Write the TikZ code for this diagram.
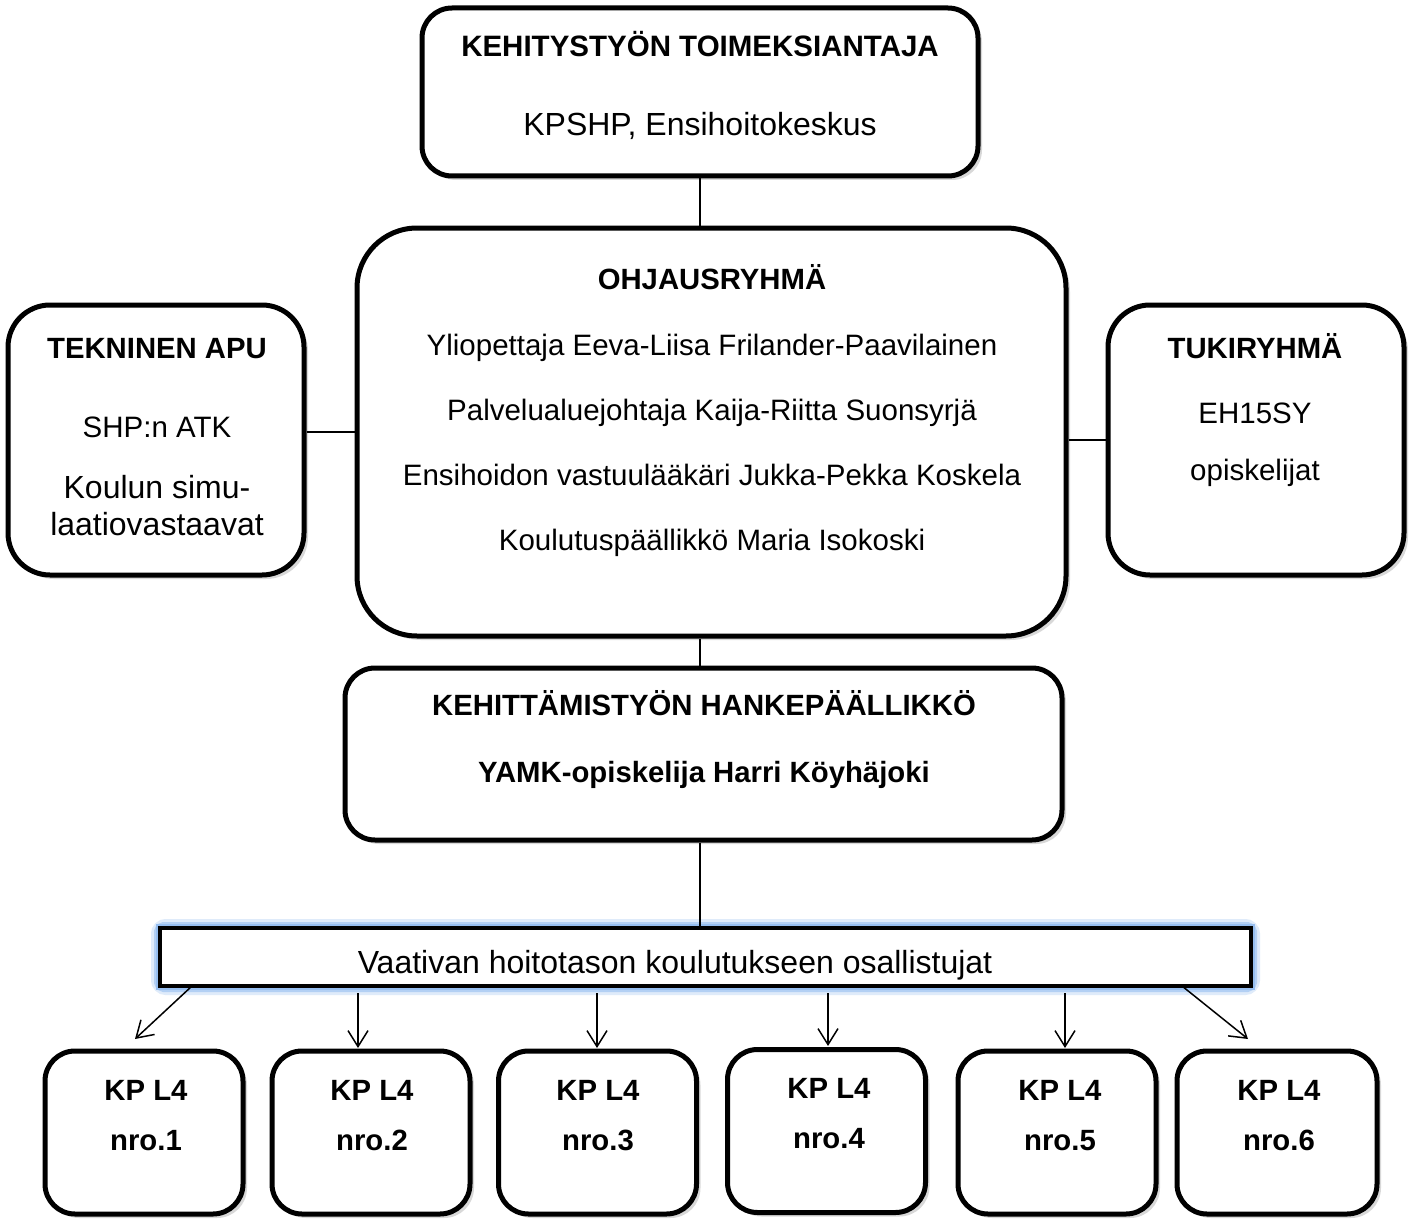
\documentclass[tikz,border=0pt]{standalone}
\usepackage{fontspec}
\setmainfont{Liberation Sans}
\usetikzlibrary{shadows,arrows.meta}
\definecolor{glowblue}{RGB}{150,190,240}
\tikzset{
  box/.style={draw, line width=5pt, rounded corners=#1, fill=white, inner sep=0pt,
    drop shadow={shadow xshift=4pt, shadow yshift=-4pt, opacity=0.3}},
  box/.default=30pt,
  rtxt/.style={anchor=base, inner sep=0pt, font=\fontsize{29.5}{35}\selectfont},
  btxt/.style={anchor=base, inner sep=0pt, font=\fontsize{29.3}{35}\selectfont\bfseries},
  bigtxt/.style={anchor=base, inner sep=0pt, font=\fontsize{32}{37}\selectfont},
  conn/.style={line width=1.5pt},
  arr/.style={line width=1.5pt, -{Straight Barb[length=16pt,width=20pt]}},
  kp/.style={box, minimum width=198pt, minimum height=163pt}
}
\begin{document}
\begin{tikzpicture}[x=1pt,y=-1pt]
\useasboundingbox[fill=white] (0,0) rectangle (1414,1220);

% boxes
\node[box=30pt, minimum width=556pt, minimum height=168pt] (top) at (700,92) {};
\node[box=60pt, minimum width=709pt, minimum height=408pt] (ohj) at (711.5,432) {};
\node[box=42pt, minimum width=296pt, minimum height=270pt] (tek) at (156,440) {};
\node[box=42pt, minimum width=296pt, minimum height=270pt] (tuk) at (1256,440) {};
\node[box=30pt, minimum width=717pt, minimum height=172pt] (han) at (703.5,754) {};

% bar with glow
\draw[glowblue, line width=18pt, opacity=0.3, rounded corners=6pt] (160,928) rectangle (1251,986);
\draw[glowblue, line width=12pt, opacity=0.6, rounded corners=4pt] (160,928) rectangle (1251,986);
\draw[glowblue, line width=8pt] (160,928) rectangle (1251,986);
\node[draw, line width=4.5pt, fill=white, minimum width=1091pt, minimum height=58pt, inner sep=0pt] (bar) at (705.5,957) {};

% bottom boxes
\node[kp] (b1) at (144,1132.5) {};
\node[kp] (b2) at (371,1132.5) {};
\node[kp] (b3) at (597.5,1132.5) {};
\node[kp] (b4) at (826.5,1131) {};
\node[kp] (b5) at (1057,1132.5) {};
\node[kp, minimum width=200pt] (b6) at (1277,1132.5) {};

% connectors
\draw[conn] (top.south) -- (top.south |- ohj.north);
\draw[conn] (tek.east |- ohj.west) -- (ohj.west);
\draw[conn] (tuk.west -| ohj.east) -- (tuk.west);
\draw[conn] (top.south |- ohj.south) -- (top.south |- han.north);
\draw[conn] (top.south |- han.south) -- (top.south |- bar.north);

% arrows
\coordinate (s1) at (192,986);  \coordinate (e1) at (135,1039);
\coordinate (s2) at (358,993);  \coordinate (e2) at (358,1048);
\coordinate (s3) at (597,993);  \coordinate (e3) at (597,1048);
\coordinate (s4) at (828,993);  \coordinate (e4) at (828,1046);
\coordinate (s5) at (1065,993); \coordinate (e5) at (1065,1048);
\coordinate (s6) at (1182,986); \coordinate (e6) at (1248,1039);
\foreach \i in {1,...,6} { \draw[arr] (s\i) -- (e\i); }

% texts
\node[btxt, font=\fontsize{29.5}{35}\selectfont\bfseries] (t1) at (700,57) {KEHITYSTYÖN TOIMEKSIANTAJA};
\node[bigtxt] (t2) at (700,136) {KPSHP, Ensihoitokeskus};

\node[btxt] (o0) at (712,289) {OHJAUSRYHMÄ};
\node[rtxt] (o1) at (712,355) {Yliopettaja Eeva-Liisa Frilander-Paavilainen};
\node[rtxt] (o2) at (712,420) {Palvelualuejohtaja Kaija-Riitta Suonsyrjä};
\node[rtxt] (o3) at (712,485) {Ensihoidon vastuulääkäri Jukka-Pekka Koskela};
\node[rtxt] (o4) at (712,550) {Koulutuspäällikkö Maria Isokoski};

\node[btxt] (k0) at (157,358) {TEKNINEN APU};
\node[rtxt] (k1) at (157,437) {SHP:n ATK};
\node[bigtxt] (k2) at (157,498) {Koulun simu-};
\node[bigtxt] (k3) at (157,535) {laatiovastaavat};

\node[btxt] (u0) at (1255,358) {TUKIRYHMÄ};
\node[rtxt] (u1) at (1255,423) {EH15SY};
\node[rtxt] (u2) at (1255,480) {opiskelijat};

\node[btxt] (h0) at (704,715) {KEHITTÄMISTYÖN HANKEPÄÄLLIKKÖ};
\node[btxt] (h1) at (704,782) {YAMK-opiskelija Harri Köyhäjoki};

\node[bigtxt] (v0) at (675,973) {Vaativan hoitotason koulutukseen osallistujat};

\foreach \n/\x/\y in {1/146/1100, 2/372/1100, 3/598/1100, 4/829/1098, 5/1060/1100, 6/1279/1100} {
  \node[btxt] (kp\n) at (\x,\y) {KP L4};
  \node[btxt] (nr\n) at (\x,\y+50) {nro.\n};
}
\end{tikzpicture}
\end{document}
